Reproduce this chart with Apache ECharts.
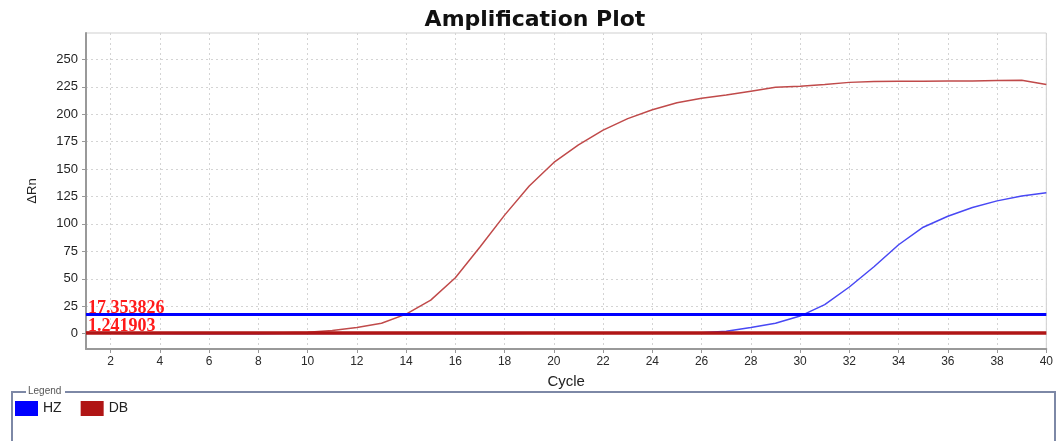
<!DOCTYPE html>
<html>
<head>
<meta charset="utf-8">
<title>Amplification Plot</title>
<script src="https://cdn.jsdelivr.net/npm/echarts@6/dist/echarts.min.js"></script>
<style>
  html, body { margin: 0; padding: 0; background: #fff; }
  #chart { width: 1056px; height: 441px; }
</style>
</head>
<body>
<div id="chart"></div>
<script>
// Cycle numbers 1..40
const cycles = [1, 2, 3, 4, 5, 6, 7, 8, 9, 10, 11, 12, 13, 14, 15, 16, 17, 18, 19, 20,
                21, 22, 23, 24, 25, 26, 27, 28, 29, 30, 31, 32, 33, 34, 35, 36, 37, 38, 39, 40];

// ΔRn per cycle for each sample
const hzValues = [0.4, 0.3, 0.2, 0.1, 0.0, -0.1, -0.1, 0.0, 0.1, 0.1, 0.2, 0.2, 0.2, 0.2, 0.2, 0.2, 0.2, 0.2, 0.3, 0.3,
                  0.3, 0.4, 0.4, 0.5, 0.6, 0.9, 2.2, 5.5, 9.4, 16.0, 26.5, 42.5, 61.0, 81.0, 97.0, 107.0, 115.0, 121.0, 125.5, 128.5];
const dbValues = [1.2, 1.0, 0.8, 0.6, 0.5, 0.4, 0.4, 0.5, 0.7, 1.2, 2.8, 5.6, 9.5, 17.8, 30.5, 51.0, 79.0, 108.0, 134.5, 156.0,
                  172.0, 185.5, 196.0, 204.0, 210.5, 214.5, 217.5, 221.0, 224.5, 225.5, 227.0, 229.0, 229.8, 230.0, 230.0, 230.2, 230.3, 230.8, 231.0, 227.0];

// Threshold per sample
const hzThreshold = 17.353826;
const dbThreshold = 1.241903;

// Axis tick positions
const xTicks = [2, 4, 6, 8, 10, 12, 14, 16, 18, 20, 22, 24, 26, 28, 30, 32, 34, 36, 38, 40];
const yTicks = [0, 25, 50, 75, 100, 125, 150, 175, 200, 225, 250];

const pairs = (ys) => cycles.map((c, i) => [c, ys[i]]);

const SANS = 'Arial, "Liberation Sans", sans-serif';

// Threshold value printed at the left end of its line, full precision
const thresholdLabel = {
  show: true,
  position: 'insideStartTop',
  distance: [2, -3],
  formatter: (p) => String(p.data.yAxis),
  color: '#ff1a1a',
  fontFamily: '"Liberation Serif", "Times New Roman", serif',
  fontWeight: 'bold',
  fontSize: 18
};

const chart = echarts.init(document.getElementById('chart'), null, { renderer: 'canvas' });

chart.setOption({
  animation: false,
  backgroundColor: '#ffffff',
  title: {
    text: 'Amplification Plot',
    left: 530,
    textAlign: 'center',
    top: 4,
    textStyle: {
      fontFamily: '"DejaVu Sans", Arial, sans-serif',
      fontWeight: 900,
      fontSize: 22,
      color: '#111'
    }
  },
  legend: {
    left: 15,
    top: 401,
    padding: 0,
    icon: 'rect',
    itemWidth: 23,
    itemHeight: 15,
    itemGap: 19,
    textStyle: { fontFamily: SANS, fontSize: 14, color: '#222' },
    data: ['HZ', 'DB']
  },
  grid: {
    left: 86,
    right: 8,
    top: 33,
    bottom: 92,
    show: true,
    borderColor: '#cfcfcf',
    borderWidth: 1
  },
  xAxis: {
    type: 'value',
    min: 1,
    max: 40,
    name: 'Cycle',
    nameLocation: 'middle',
    nameGap: 25,
    nameTextStyle: { fontFamily: SANS, fontSize: 15, color: '#222' },
    axisLine: { show: true, onZero: false, lineStyle: { color: '#999', width: 2 } },
    axisTick: { show: true, length: 4, customValues: xTicks, lineStyle: { color: '#999' } },
    axisLabel: {
      customValues: xTicks,
      margin: 7,
      fontFamily: SANS,
      fontSize: 12,
      color: '#2a2a2a'
    },
    splitLine: { show: true, lineStyle: { color: '#d4d4d4', type: [2, 3], width: 1 } }
  },
  yAxis: {
    type: 'value',
    min: -14,
    max: 274,
    name: 'ΔRn',
    nameLocation: 'middle',
    nameGap: 47,
    nameRotate: 90,
    nameTextStyle: { fontFamily: SANS, fontSize: 13, color: '#222' },
    axisLine: { show: true, onZero: false, lineStyle: { color: '#999', width: 2 } },
    axisTick: { show: true, length: 4, customValues: yTicks, lineStyle: { color: '#999' } },
    axisLabel: {
      customValues: yTicks,
      margin: 8,
      fontFamily: SANS,
      fontSize: 13,
      color: '#1f1f1f'
    },
    splitLine: { show: true, lineStyle: { color: '#d4d4d4', type: [2, 3], width: 1 } }
  },
  graphic: [
    {
      type: 'polyline',
      shape: { points: [[26, 392], [12, 392], [12, 441]] },
      style: { stroke: '#7d88a6', lineWidth: 2, fill: null },
      silent: true
    },
    {
      type: 'polyline',
      shape: { points: [[65, 392], [1055, 392], [1055, 441]] },
      style: { stroke: '#7d88a6', lineWidth: 2, fill: null },
      silent: true
    },
    {
      type: 'text',
      left: 28,
      top: 386,
      style: {
        text: 'Legend',
        fontFamily: SANS,
        fontSize: 10,
        fill: '#555'
      },
      silent: true
    }
  ],
  series: [
    {
      name: 'HZ',
      type: 'line',
      data: pairs(hzValues),
      showSymbol: false,
      symbol: 'none',
      itemStyle: { color: '#0000ff' },
      lineStyle: { color: '#4848f4', width: 1.5 },
      z: 3,
      markLine: {
        silent: true,
        symbol: 'none',
        lineStyle: { color: '#0000ff', width: 3, type: 'solid' },
        label: thresholdLabel,
        data: [{ yAxis: hzThreshold }]
      }
    },
    {
      name: 'DB',
      type: 'line',
      data: pairs(dbValues),
      showSymbol: false,
      symbol: 'none',
      itemStyle: { color: '#b01515' },
      lineStyle: { color: '#c04a4a', width: 1.5 },
      z: 3,
      markLine: {
        silent: true,
        symbol: 'none',
        lineStyle: { color: '#b01515', width: 3.5, type: 'solid' },
        label: thresholdLabel,
        data: [{ yAxis: dbThreshold }]
      }
    }
  ]
});
</script>
</body>
</html>
